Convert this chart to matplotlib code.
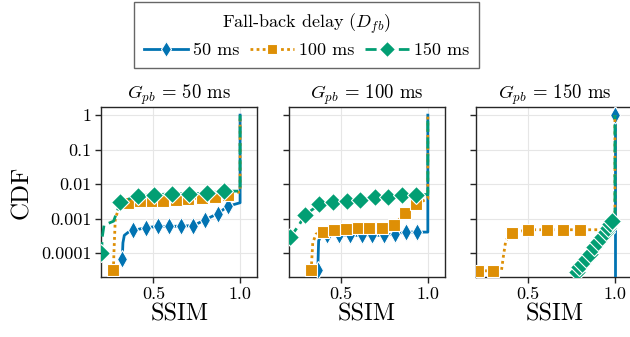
import matplotlib
matplotlib.use("Agg")
import matplotlib.pyplot as plt
from matplotlib.lines import Line2D
import numpy as np

plt.rcParams['font.family'] = ['cmr10', 'DejaVu Serif']
plt.rcParams['mathtext.fontset'] = 'cm'
plt.rcParams['axes.unicode_minus'] = False
plt.rcParams['axes.formatter.use_mathtext'] = True

# ---------------- data ----------------
panel_titles = [r"$G_{pb} \,=\, 50$ ms", r"$G_{pb} \,=\, 100$ ms", r"$G_{pb} \,=\, 150$ ms"]
series_labels = ["50 ms", "100 ms", "150 ms"]
ytick_vals = [1e-4, 1e-3, 1e-2, 1e-1, 1]
ytick_labels = ["0.0001", "0.001", "0.01", "0.1", "1"]
xtick_vals = [0.5, 1.0]
xtick_labels = ["0.5", "1.0"]

# Panel 1 (G_pb = 50 ms)
p1_blue_x = [0.32, 0.324, 0.332, 0.356, 0.385, 0.456, 0.525, 0.592, 0.66, 0.73, 0.80, 0.87, 0.93, 1.0, 1.0]
p1_blue_y = [6.6e-5, 2.0e-4, 3.3e-4, 4.1e-4, 4.6e-4, 5.5e-4, 6.0e-4, 6.0e-4, 6.1e-4, 6.3e-4, 9.4e-4, 1.4e-3, 2.3e-3, 2.9e-3, 1.0]
p1_blue_m = [0, 4, 5, 6, 7, 8, 9, 10, 11, 12]
p1_orange_x = [0.269, 0.272, 0.28, 0.30, 0.356, 0.423, 0.49, 0.557, 0.63, 0.70, 0.78, 0.855, 0.93, 1.0, 1.0]
p1_orange_y = [3.2e-5, 1.0e-4, 1.0e-3, 2.0e-3, 2.9e-3, 3.2e-3, 3.3e-3, 3.3e-3, 3.4e-3, 3.8e-3, 4.0e-3, 4.2e-3, 5.0e-3, 6.0e-3, 1.0]
p1_orange_m = [0, 4, 5, 6, 7, 8, 9, 10, 11, 12]
p1_green_x = [0.2, 0.205, 0.215, 0.27, 0.31, 0.41, 0.506, 0.606, 0.706, 0.808, 0.908, 1.0, 1.0]
p1_green_y = [1.0e-4, 3.0e-4, 6.5e-4, 8.5e-4, 3.0e-3, 4.7e-3, 4.9e-3, 5.3e-3, 5.3e-3, 5.5e-3, 6.3e-3, 6.3e-3, 1.0]
p1_green_m = [0, 4, 5, 6, 7, 8, 9, 10]

# Panel 2 (G_pb = 100 ms)
p2_blue_x = [0.365, 0.37, 0.385, 0.42, 0.485, 0.55, 0.62, 0.68, 0.75, 0.81, 0.875, 0.94, 1.0, 1.0]
p2_blue_y = [3.2e-5, 2.3e-4, 3.3e-4, 3.4e-4, 3.3e-4, 3.3e-4, 3.3e-4, 3.3e-4, 3.3e-4, 3.7e-4, 4.1e-4, 4.1e-4, 4.1e-4, 1.0]
p2_blue_m = [0, 3, 4, 5, 6, 7, 8, 9, 10, 11]
p2_orange_x = [0.327, 0.336, 0.355, 0.393, 0.46, 0.527, 0.597, 0.662, 0.733, 0.805, 0.871, 0.934, 1.0, 1.0]
p2_orange_y = [3.2e-5, 2.0e-4, 3.6e-4, 4.2e-4, 4.6e-4, 5.1e-4, 5.5e-4, 5.5e-4, 5.5e-4, 6.7e-4, 1.45e-3, 2.7e-3, 3.8e-3, 1.0]
p2_orange_m = [0, 3, 4, 5, 6, 7, 8, 9, 10, 11]
p2_green_x = [0.205, 0.256, 0.289, 0.374, 0.45, 0.533, 0.61, 0.696, 0.772, 0.849, 0.929, 1.0, 1.0]
p2_green_y = [2.9e-4, 6.4e-4, 1.25e-3, 2.6e-3, 3.0e-3, 3.2e-3, 3.4e-3, 4.2e-3, 4.4e-3, 5.0e-3, 5.0e-3, 5.0e-3, 1.0]
p2_green_m = [0, 2, 3, 4, 5, 6, 7, 8, 9, 10]

# Panel 3 (G_pb = 150 ms)
p3_blue_x = [1.0, 1.0]
p3_blue_y = [1e-5, 1.0]
p3_blue_m = [1]
p3_orange_x = [0.21, 0.298, 0.345, 0.356, 0.37, 0.404, 0.5, 0.606, 0.70, 0.798, 1.0, 1.0]
p3_orange_y = [3.1e-5, 3.1e-5, 3.1e-5, 7.9e-5, 2.3e-4, 3.9e-4, 4.8e-4, 4.8e-4, 4.8e-4, 4.8e-4, 4.8e-4, 1.0]
p3_orange_m = [0, 1, 5, 6, 7, 8, 9]
p3_green_x = [0.779, 0.795, 0.808, 0.833, 0.856, 0.88, 0.904, 0.927, 0.948, 0.962, 0.971, 0.981, 1.0, 1.0]
p3_green_y = [2.9e-5, 4.0e-5, 5.0e-5, 7.0e-5, 9.8e-5, 1.5e-4, 2.1e-4, 2.9e-4, 4.1e-4, 5.5e-4, 7.2e-4, 8.5e-4, 9.0e-4, 1.0]
p3_green_m = [0, 1, 2, 3, 4, 5, 6, 7, 8, 9, 10, 11]

panels = [
    [(p1_blue_x, p1_blue_y, p1_blue_m), (p1_orange_x, p1_orange_y, p1_orange_m), (p1_green_x, p1_green_y, p1_green_m)],
    [(p2_blue_x, p2_blue_y, p2_blue_m), (p2_orange_x, p2_orange_y, p2_orange_m), (p2_green_x, p2_green_y, p2_green_m)],
    [(p3_blue_x, p3_blue_y, p3_blue_m), (p3_orange_x, p3_orange_y, p3_orange_m), (p3_green_x, p3_green_y, p3_green_m)],
]

# ---------------- styles ----------------
colors = ["#0173B2", "#DE8F05", "#029E73"]
linestyles = ["-", (0, (1, 1.2)), (0, (4, 2))]
markers = ["d", "s", "D"]
msizes = [9, 8.5, 9]

fig = plt.figure(figsize=(6.30, 3.37), dpi=100)
ax_left = [0.161, 0.459, 0.756]
ax_w = 0.2476
ax_b = 0.178
ax_h = 0.505

spine_col = "#262626"
axes = []
for i, data in enumerate(panels):
    ax = fig.add_axes([ax_left[i], ax_b, ax_w, ax_h])
    axes.append(ax)
    for j, (x, y, m) in enumerate(data):
        ax.plot(x, y, color=colors[j], linestyle=linestyles[j], linewidth=2,
                marker=markers[j], markersize=msizes[j], markevery=m,
                markeredgecolor="white", markeredgewidth=0.8, zorder=3 + j)
    ax.set_yscale("log")
    ax.set_xlim(0.2, 1.1)
    ax.set_ylim(2.05e-5, 1.74)
    ax.set_yticks(ytick_vals)
    ax.yaxis.set_minor_locator(matplotlib.ticker.NullLocator())
    if i == 0:
        ax.set_yticklabels(ytick_labels, fontsize=13)
        ax.set_ylabel("CDF", fontsize=18, labelpad=6)
    else:
        ax.set_yticklabels([])
    ax.set_xticks(xtick_vals)
    ax.set_xticklabels(xtick_labels, fontsize=13)
    ax.set_xlabel("SSIM", fontsize=17.5, labelpad=1)
    ax.set_title(panel_titles[i], fontsize=13.5, pad=4)
    ax.grid(True, color="#e6e6e6", linewidth=0.8, zorder=0)
    ax.set_axisbelow(True)
    for s in ax.spines.values():
        s.set_color(spine_col)
        s.set_linewidth(1.0)
    ax.tick_params(axis="both", direction="out", length=4, width=1, color=spine_col, pad=3)

handles = [Line2D([], [], color=colors[j], linestyle=linestyles[j], linewidth=2,
                  marker=markers[j], markersize=msizes[j] - 1, markeredgecolor="white",
                  markeredgewidth=0.8) for j in range(3)]
leg = fig.legend(handles, series_labels, loc="upper center", bbox_to_anchor=(0.487, 0.995),
                 ncol=3, fontsize=13, title=r"Fall-back delay ($D_{fb}$)", title_fontsize=13,
                 frameon=True, fancybox=False, edgecolor="#404040", handlelength=2.4,
                 handletextpad=0.3, columnspacing=0.6, borderpad=0.55, labelspacing=0.3,
                 borderaxespad=0.0)
leg.get_frame().set_linewidth(1.0)
leg._legend_box.sep = 5

fig.savefig("out.png", dpi=100)
